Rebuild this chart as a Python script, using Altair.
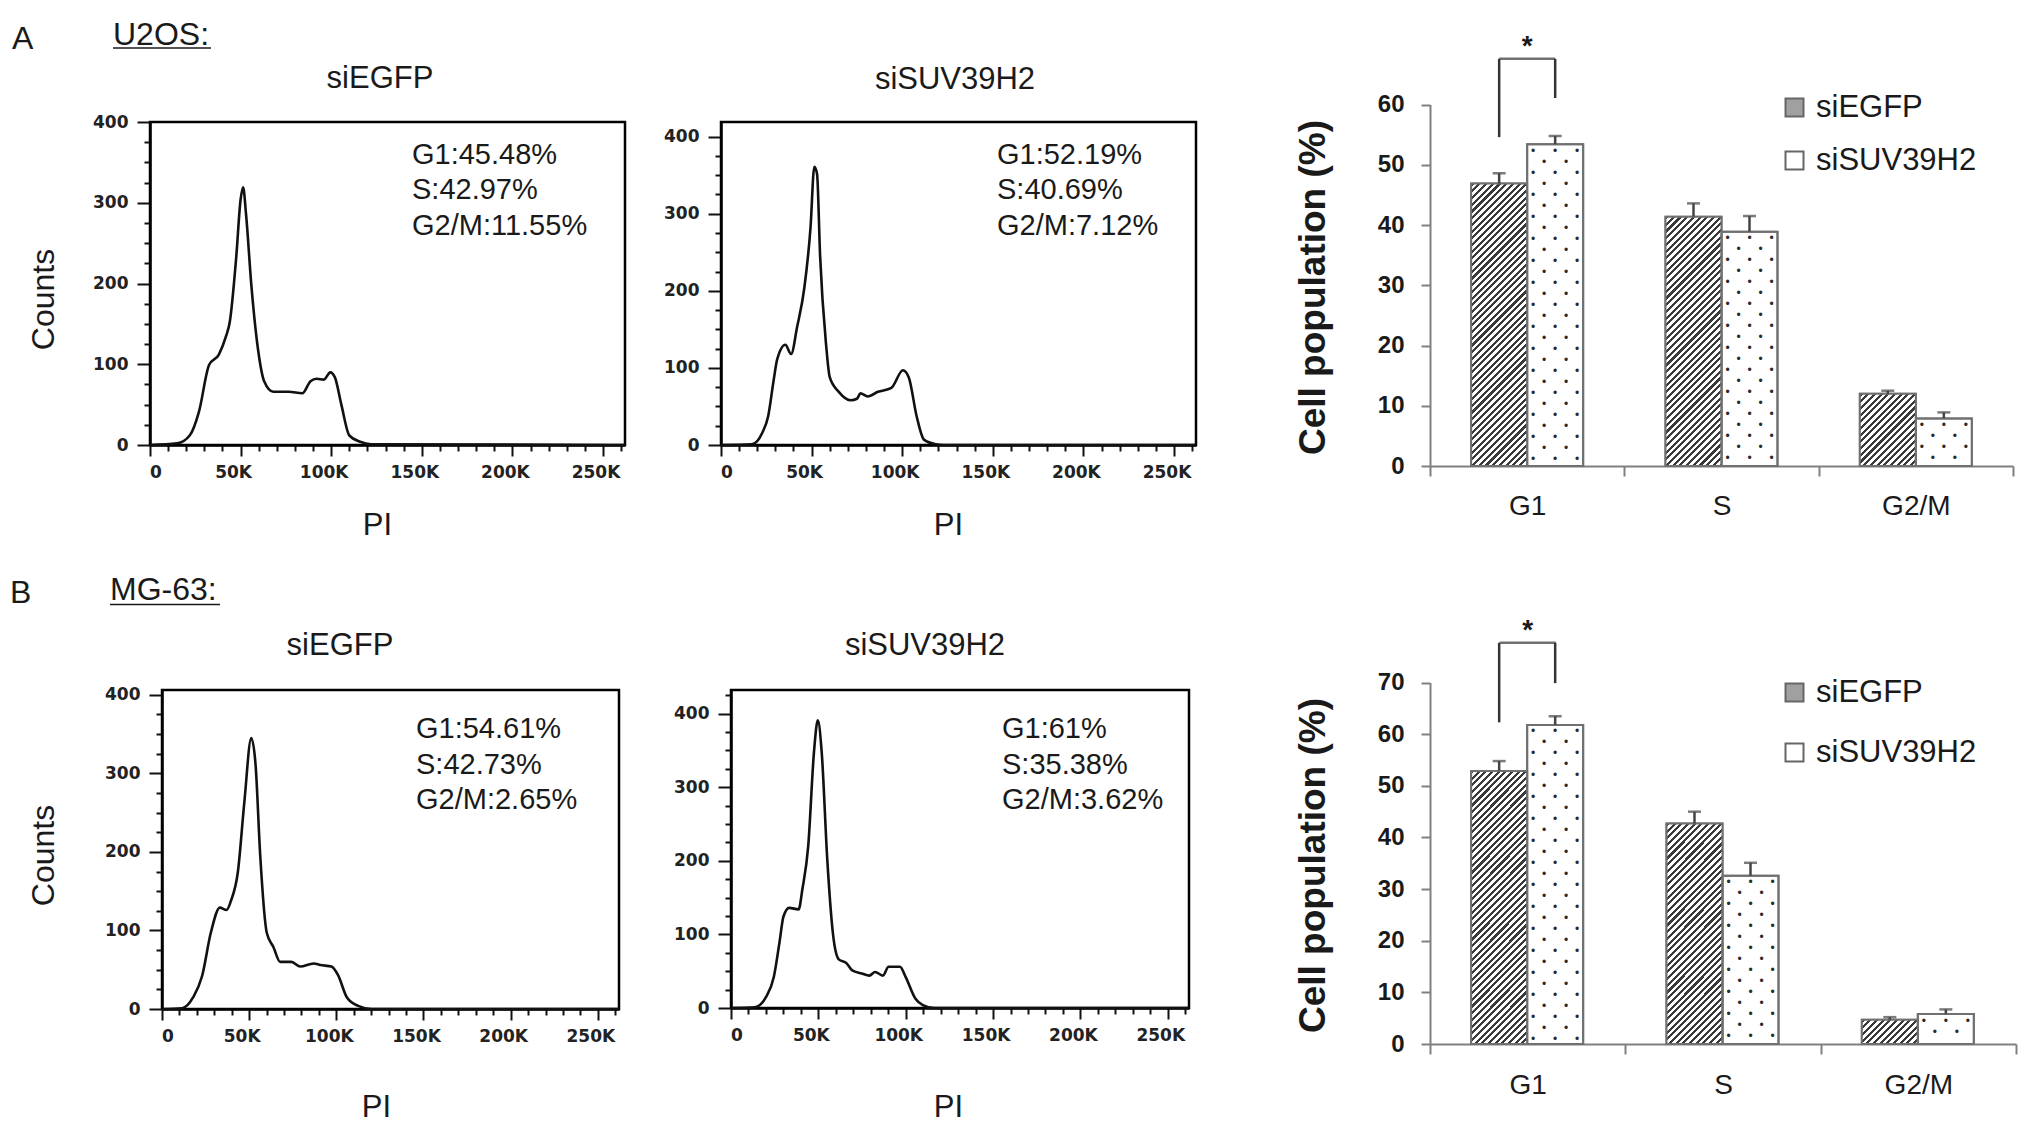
import math
import altair as alt
import pandas as pd

# ---------------- data ----------------
# Flow cytometry histograms: PI signal (in thousands) and cell counts
u2os_egfp_pi = [0, 15, 22, 27, 32.6, 38, 42, 44, 47.6, 50, 51.4, 53, 56, 59.7, 63, 68, 76.6, 84, 88.6, 92, 96, 99.5, 102, 105.6, 110, 116, 122, 262]
u2os_egfp_ct = [0, 2, 12, 41, 99, 112, 135, 152, 233, 304, 319, 286, 196, 117, 79, 66, 66, 64, 79, 82, 81, 90, 84, 50, 12, 4, 1, 0]
u2os_suv_pi = [0, 17, 22.8, 26, 29, 31, 35.5, 38.7, 42, 46, 49.4, 51.5, 53, 54.7, 58, 60, 65, 71.7, 75, 77, 81, 86.6, 94, 100.4, 103.6, 108, 112, 118.5, 123, 262]
u2os_suv_ct = [0, 1, 16, 37, 83, 111, 130, 118, 153, 204, 282, 361, 352, 245, 130, 88, 69, 58, 60, 67, 63, 69, 74, 97, 88, 37, 7, 1, 0, 0]
mg63_egfp_pi = [0, 11.5, 17.9, 23, 28, 33.2, 37, 39.6, 43.5, 47.3, 51.2, 53.7, 56.3, 60.1, 63.9, 67.8, 74.2, 79.3, 87, 90.8, 97.2, 101, 106, 112.5, 120.2, 262]
mg63_egfp_ct = [0, 1, 15, 42, 97, 129, 126, 138, 174, 265, 345, 310, 197, 97, 79, 60, 60, 54, 58, 56, 54, 43, 15, 4, 0, 0]
mg63_suv_pi = [0, 13.6, 20.1, 24.5, 27.8, 30, 33.3, 38.7, 40.9, 44.2, 47.5, 49.7, 51.9, 55.1, 58.4, 61.7, 66.1, 69.4, 74.8, 79.2, 82.5, 86.9, 90.2, 96.7, 100, 105.5, 109.8, 116.4, 262]
mg63_suv_ct = [0, 1, 15, 42, 90, 124, 136, 134, 162, 220, 348, 391, 348, 202, 100, 66, 61, 51, 47, 44, 49, 44, 56, 56, 42, 13, 4, 0, 0]

# histogram x tick labels (PI, thousands)
pi_tick_values = [0, 50, 100, 150, 200, 250]
pi_tick_labels = ["0", "50K", "100K", "150K", "200K", "250K"]

# gate percentages printed in each histogram (G1, S, G2/M)
u2os_egfp_pct = ["45.48", "42.97", "11.55"]
u2os_suv_pct = ["52.19", "40.69", "7.12"]
mg63_egfp_pct = ["54.61", "42.73", "2.65"]
mg63_suv_pct = ["61", "35.38", "3.62"]

row_letters = ["A", "B"]
cell_lines = ["U2OS:", "MG-63:"]
conditions = ["siEGFP", "siSUV39H2"]

# bar charts
phases = ["G1", "S", "G2/M"]
u2os_egfp_mean = [46.9, 41.4, 12.0]
u2os_egfp_err = [1.7, 2.2, 0.5]
u2os_suv_mean = [53.4, 38.9, 7.9]
u2os_suv_err = [1.4, 2.6, 1.0]
mg63_egfp_mean = [52.9, 42.7, 4.7]
mg63_egfp_err = [1.9, 2.3, 0.5]
mg63_suv_mean = [61.8, 32.6, 5.8]
mg63_suv_err = [1.7, 2.5, 0.9]
# significance bracket: siEGFP foot, top, siSUV39H2 foot
u2os_bracket = [54.6, 67.6, 61.1]
mg63_bracket = [62.3, 77.7, 69.9]

FONT = "Liberation Sans"
INK = "#1a1a1a"


# ---------------- histogram panels ----------------
def hist(pi, ct, pct, title, ytop, w, h, title_xy, text_xy, pi_xy, counts_xy=None):
    df = pd.DataFrame({"pi": pi, "count": ct})
    xs = alt.Scale(domain=[0, 262.144], nice=False, zero=False)
    ys = alt.Scale(domain=[0, ytop], nice=False)
    xaxis = alt.Axis(
        values=list(range(0, 261, 10)), tickSize=11, tickWidth=2, tickColor="#111",
        tickDash={"condition": {"test": "datum.value % 50 === 0", "value": [30, 0]}, "value": [6, 40]},
        labels=False, domainColor="#000", domainWidth=2.5, grid=False,
        title="PI", titleFont=FONT, titleFontSize=31, titleFontWeight="normal", titleColor=INK,
        titleX=pi_xy[0], titleY=pi_xy[1], titleAlign="center", titleBaseline="middle")
    ykw = dict(
        values=list(range(0, int(ytop) + 1, 25)), tickSize=13, tickWidth=2, tickColor="#111",
        tickDash={"condition": {"test": "datum.value % 100 === 0", "value": [30, 0]}, "value": [6, 40]},
        labelExpr="datum.value % 100 === 0 ? datum.value : ''",
        labelOverlap=False, labelFont="DejaVu Sans", labelFontWeight="bold",
        labelFontSize=17, labelColor="#222", labelPadding=9,
        domainColor="#000", domainWidth=2.5, grid=False)
    if counts_xy is not None:
        yaxis = alt.Axis(title="Counts", titleFont=FONT, titleFontSize=32, titleFontWeight="normal",
                         titleColor=INK, titleX=counts_xy[0], titleY=counts_xy[1], titleAngle=270,
                         titleAlign="center", titleBaseline="middle", **ykw)
    else:
        yaxis = alt.Axis(title=None, **ykw)

    X = alt.X("pi:Q", scale=xs, axis=xaxis)
    line = alt.Chart(df).mark_line(color="#111", strokeWidth=2.6, interpolate="monotone").encode(
        x=X, y=alt.Y("count:Q", scale=ys, axis=yaxis))
    # FlowJo-style tick labels (slightly off-centre, as in the original export)
    tdf = pd.DataFrame({"pi": pi_tick_values, "lab": pi_tick_labels})
    tick_zero = alt.Chart(tdf).transform_filter("datum.pi === 0").mark_text(
        dx=6, baseline="middle", font="DejaVu Sans", fontWeight="bold", fontSize=17, color="#222").encode(
        x=X, y=alt.value(h + 28.4), text="lab:N")
    tick_rest = alt.Chart(tdf).transform_filter("datum.pi > 0").mark_text(
        dx=-7, baseline="middle", font="DejaVu Sans", fontWeight="bold", fontSize=17, color="#222").encode(
        x=X, y=alt.value(h + 28.4), text="lab:N")
    label = "G1:" + pct[0] + "%\nS:" + pct[1] + "%\nG2/M:" + pct[2] + "%"
    txt = alt.Chart(pd.DataFrame({"t": [label]})).mark_text(
        align="left", baseline="alphabetic", fontSize=29, font=FONT, color=INK,
        lineBreak="\n", lineHeight=35.5).encode(
        x=alt.value(text_xy[0]), y=alt.value(text_xy[1]), text="t:N")
    ttl = alt.Chart(pd.DataFrame({"t": [title]})).mark_text(
        align="center", baseline="alphabetic", fontSize=31, font=FONT, color=INK).encode(
        x=alt.value(title_xy[0]), y=alt.value(title_xy[1]), text="t:N")
    return alt.layer(line, tick_zero, tick_rest, txt, ttl).properties(
        width=w, height=h, view=alt.ViewBackground(stroke="#000", strokeWidth=2.5))


def row_label(letter, line_name, w, h, lx, ly, cx, cy, ux0, ux1, uy):
    a = alt.Chart(pd.DataFrame({"t": [letter]})).mark_text(
        align="left", baseline="alphabetic", fontSize=32, font=FONT, color=INK).encode(
        x=alt.value(lx), y=alt.value(ly), text="t:N")
    b = alt.Chart(pd.DataFrame({"t": [line_name]})).mark_text(
        align="left", baseline="alphabetic", fontSize=32, font=FONT, color=INK).encode(
        x=alt.value(cx), y=alt.value(cy), text="t:N")
    u = alt.Chart(pd.DataFrame({"k": [0]})).mark_rule(color=INK, strokeWidth=1.6).encode(
        x=alt.value(ux0), x2=alt.value(ux1), y=alt.value(uy))
    return alt.layer(a, b, u).properties(width=w, height=h)


def spacer(w, h):
    return alt.Chart(pd.DataFrame({"s": [0]})).mark_point(opacity=0).encode(
        x=alt.value(0), y=alt.value(0)).properties(width=w, height=h)


# ---------------- bar charts ----------------
def stripe_stops(L, period, dark_w, phase, dark, light):
    stops = [{"offset": 0, "color": light}]
    k = math.floor((-phase - dark_w) / period) - 1
    while True:
        c = phase + k * period
        k += 1
        a = (c - dark_w / 2) / L
        b = (c + dark_w / 2) / L
        if a >= 1:
            break
        if b <= 0:
            continue
        a = round(max(a, 0), 5)
        b = round(min(b, 1), 5)
        stops += [{"offset": a, "color": light}, {"offset": a, "color": dark},
                  {"offset": b, "color": dark}, {"offset": b, "color": light}]
    stops.append({"offset": 1, "color": light})
    return stops


def hatch_gradient(w, h):
    k = (w + h) / (w * w + h * h)
    return {"gradient": "linear", "x1": 0, "y1": 0, "x2": round(k * w, 5), "y2": round(k * h, 5),
            "stops": stripe_stops(w + h, 6.7, 3.1, 2.0, "#3a3a3a", "#ffffff")}


def barchart(egfp, egfp_err, suv, suv_err, bracket, ytop, yrange, w, h, xoff, xpad,
             legend_y, legend_pad, ytitle_y):
    rows = []
    for i, p in enumerate(phases):
        rows.append({"phase": p, "series": conditions[0], "v": egfp[i], "e": egfp_err[i]})
        rows.append({"phase": p, "series": conditions[1], "v": suv[i], "e": suv_err[i]})
    df = pd.DataFrame(rows)
    df["top"] = df["v"] + df["e"]
    pxu = (yrange[0] - yrange[1]) / ytop
    pad_o = 0.735
    bar_w = w / len(phases) / (2 + 2 * pad_o)

    xaxis = alt.Axis(title=None, labelAngle=0, tickBand="extent", tickSize=10, tickWidth=2,
                     tickColor="#808080", domainColor="#808080", domainWidth=2,
                     labelFont=FONT, labelFontSize=28, labelColor=INK, labelPadding=xpad,
                     offset=xoff, grid=False)
    yaxis = alt.Axis(values=list(range(0, ytop + 1, 10)), tickSize=9, tickWidth=2,
                     tickColor="#808080", domainColor="#808080", domainWidth=2,
                     labelFont=FONT, labelFontWeight="bold", labelFontSize=24, labelColor=INK,
                     labelPadding=17, grid=False,
                     title="Cell population (%)", titleFont=FONT, titleFontWeight="bold",
                     titleFontSize=37, titleColor=INK, titleX=-117, titleY=ytitle_y,
                     titleAngle=270, titleAlign="center", titleBaseline="middle")
    xsc = alt.Scale(domain=phases, paddingInner=0, paddingOuter=0)
    osc = alt.Scale(domain=conditions, paddingInner=0, paddingOuter=pad_o)
    ysc = alt.Scale(domain=[0, ytop], range=yrange, nice=False)
    X = alt.X("phase:N", scale=xsc, axis=xaxis, sort=phases)
    XO = alt.XOffset("series:N", scale=osc, sort=conditions)

    def Y(f):
        return alt.Y(f + ":Q", scale=ysc, axis=yaxis)

    base = alt.Chart(df).mark_bar(stroke="#707070", strokeWidth=2).encode(
        x=X, xOffset=XO, y=Y("v"),
        fill=alt.Fill("series:N", scale=alt.Scale(domain=conditions, range=["#a0a0a0", "#ffffff"]),
                      legend=alt.Legend(title=None, orient="none", legendX=349, legendY=legend_y,
                                        symbolType="square", symbolSize=324,
                                        symbolStrokeColor="#666", symbolStrokeWidth=2,
                                        labelFont=FONT, labelFontSize=31, labelColor=INK,
                                        labelLimit=0, labelOffset=6, rowPadding=legend_pad,
                                        padding=0)))
    layers = [base]
    # hatching of the siEGFP bars
    for i, p in enumerate(phases):
        grad = hatch_gradient(bar_w, egfp[i] * pxu)
        layers.append(alt.Chart(df).transform_filter(
            "datum.series === '" + conditions[0] + "' && datum.phase === '" + p + "'").mark_bar(
            fill=grad, strokeWidth=0).encode(x=X, xOffset=XO, y=Y("v")))
    # dotted texture of the siSUV39H2 bars
    dots = []
    for i, p in enumerate(phases):
        hpx = suv[i] * pxu
        k = 0
        ypx = 6.5
        while ypx < hpx - 3:
            cols = [-22, 0, 22] if k % 2 == 0 else [-11, 11]
            for c in cols:
                dots.append({"phase": p, "series": conditions[1], "y": suv[i] - ypx / pxu, "col": c})
            k += 1
            ypx += 11
    ddf = pd.DataFrame(dots)
    for c in [-22, -11, 0, 11, 22]:
        layers.append(alt.Chart(ddf).transform_filter("datum.col === " + str(c)).mark_text(
            text="\u2022", fontSize=12, font=FONT, color="#2a2a2a", dx=c, baseline="middle").encode(
            x=X, xOffset=XO, y=Y("y")))
    # outlines
    layers.append(alt.Chart(df).mark_bar(fillOpacity=0, stroke="#707070", strokeWidth=2).encode(
        x=X, xOffset=XO, y=Y("v")))
    # error bars
    layers.append(alt.Chart(df).mark_rule(color="#444", strokeWidth=2.5).encode(
        x=X, xOffset=XO, y=Y("v"), y2="top:Q"))
    layers.append(alt.Chart(df).mark_tick(color="#444", thickness=2.5, size=13, orient="horizontal").encode(
        x=X, xOffset=XO, y=Y("top")))
    # significance bracket
    bdf = pd.DataFrame({"phase": [phases[0], phases[0]], "series": conditions,
                        "lo": [bracket[0], bracket[2]], "hi": [bracket[1], bracket[1]]})
    layers.append(alt.Chart(bdf).mark_rule(color="#333", strokeWidth=2.5).encode(
        x=X, xOffset=XO, y=Y("lo"), y2="hi:Q"))
    sdf = pd.DataFrame({"phase": [phases[0]], "hi": [bracket[1]], "t": ["*"]})
    layers.append(alt.Chart(sdf).mark_tick(color="#333", thickness=2.5, size=bar_w, orient="horizontal").encode(
        x=X, y=Y("hi")))
    layers.append(alt.Chart(sdf).mark_text(fontSize=28, fontWeight="bold", font=FONT, color=INK,
                                           baseline="alphabetic", dy=-4).encode(
        x=X, y=Y("hi"), text="t:N"))
    return alt.layer(*layers).properties(width=w, height=h)


# ---------------- assemble ----------------
labA = row_label(row_letters[0], cell_lines[0], 1, 323, -137, -73, -36, -77.5, -36, 62, -74)
A1 = hist(u2os_egfp_pi, u2os_egfp_ct, u2os_egfp_pct, conditions[0], 400, 475, 323,
          (230, -34), (262, 41.5), (227, 80.5), counts_xy=(-107, 177))
A2 = hist(u2os_suv_pi, u2os_suv_ct, u2os_suv_pct, conditions[1], 419, 475, 323,
          (234, -33), (276, 41.5), (227, 80.5))
barA = barchart(u2os_egfp_mean, u2os_egfp_err, u2os_suv_mean, u2os_suv_err, u2os_bracket,
                60, [344, -17.4], 583, 323, 21, 16, -30, 21, 165)

labB = row_label(row_letters[1], cell_lines[1], 13, 319, -139, -87, -39, -90, -39, 71, -85.5)
B1 = hist(mg63_egfp_pi, mg63_egfp_ct, mg63_egfp_pct, conditions[0], 406, 457, 319,
          (178, -35), (254, 48.4), (214, 98.6), counts_xy=(-119, 165))
B2 = hist(mg63_suv_pi, mg63_suv_ct, mg63_suv_pct, conditions[1], 432, 458, 318,
          (194, -35), (271, 48.4), (217, 99.6))
barB = barchart(mg63_egfp_mean, mg63_egfp_err, mg63_suv_mean, mg63_suv_err, mg63_bracket,
                70, [354, -7.4], 586, 318, 36, 17, -13, 28, 175)

rowA = alt.hconcat(labA, A1, spacer(96, 323), A2, spacer(234, 323), barA,
                   spacing=0, bounds="flush").resolve_scale(fill="independent").resolve_legend(fill="independent")
rowB = alt.hconcat(labB, B1, spacer(112, 319), B2, spacer(241, 318), barB,
                   spacing=0, bounds="flush").resolve_scale(fill="independent").resolve_legend(fill="independent")

chart = alt.vconcat(rowA, rowB, spacing=31, bounds="full").resolve_scale(
    fill="independent").resolve_legend(fill="independent").properties(
    padding={"left": 1, "top": 10, "right": 0, "bottom": 0}
).configure(font=FONT).configure_view(stroke="transparent")

chart.save("out.html", embed_options={"renderer": "svg", "actions": False})
